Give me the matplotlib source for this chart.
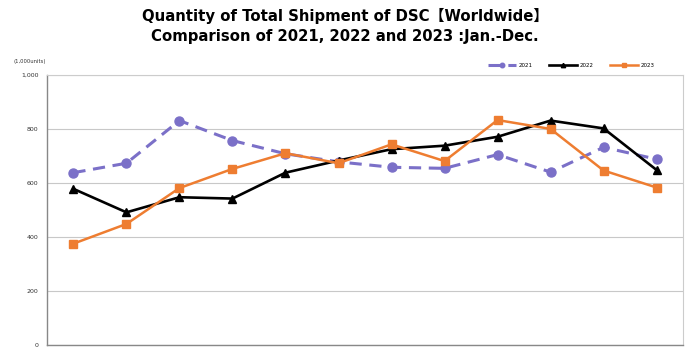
import matplotlib
matplotlib.use('Agg')
import matplotlib.pyplot as plt
import numpy as np

months = ['Jan', 'Feb', 'Mar', 'Apr', 'May', 'Jun',
          'Jul', 'Aug', 'Sep', 'Oct', 'Nov', 'Dec']
ship_2021 = [638, 673, 831, 757, 708, 678, 658, 654, 705, 640, 732, 688]
ship_2022 = [578, 491, 547, 542, 638, 683, 725, 738, 771, 831, 802, 648]
ship_2023 = [375, 448, 581, 652, 710, 673, 743, 681, 833, 800, 646, 583]
y_ticks = [0, 200, 400, 600, 800, 1000]
y_labels = ['0', '200', '400', '600', '800', '1,000']

plt.rcParams['font.family'] = ['DejaVu Sans', 'Noto Sans CJK JP']

fig = plt.figure(figsize=(6.9, 3.57), dpi=100)
ax = fig.add_axes([0.068, 0.034, 0.922, 0.756])

x = np.arange(len(months))
ax.plot(x, ship_2021, color='#7B70C8', lw=2.2, ls=(0, (4, 2.5)),
        marker='o', ms=6.5, label='2021', zorder=3)
ax.plot(x, ship_2022, color='black', lw=1.9,
        marker='^', ms=6.3, label='2022', zorder=4)
ax.plot(x, ship_2023, color='#EE7D31', lw=1.8,
        marker='s', ms=6, label='2023', zorder=5)

ax.set_xlim(-0.5, len(months) - 0.5)
ax.set_ylim(0, 1000)
ax.set_xticks([])
ax.set_yticks(y_ticks)
ax.set_yticklabels(y_labels, fontsize=4.5, color='#333333')
ax.tick_params(axis='y', length=0, pad=6)
ax.grid(axis='y', color='#C8C8C8', lw=0.8)
ax.set_axisbelow(True)
for side in ['top', 'right']:
    ax.spines[side].set_color('#CCCCCC')
    ax.spines[side].set_linewidth(0.8)
for side in ['left', 'bottom']:
    ax.spines[side].set_color('#888888')
    ax.spines[side].set_linewidth(1.0)

fig.text(0.02, 0.823, '(1,000units)', fontsize=3.8, color='#333333')

ax.legend(loc='lower right', bbox_to_anchor=(0.962, 1.01), ncol=3, frameon=False,
          fontsize=4, handlelength=5, handletextpad=0.5, columnspacing=3.0,
          markerscale=0.5, borderaxespad=0.3)

fig.text(0.50, 0.955, 'Quantity of Total Shipment of DSC【Worldwide】',
         ha='center', va='center', fontsize=10.7, fontweight='bold')
fig.text(0.50, 0.898, 'Comparison of 2021, 2022 and 2023 :Jan.-Dec.',
         ha='center', va='center', fontsize=10.7, fontweight='bold')

fig.savefig('out.png', dpi=100)
